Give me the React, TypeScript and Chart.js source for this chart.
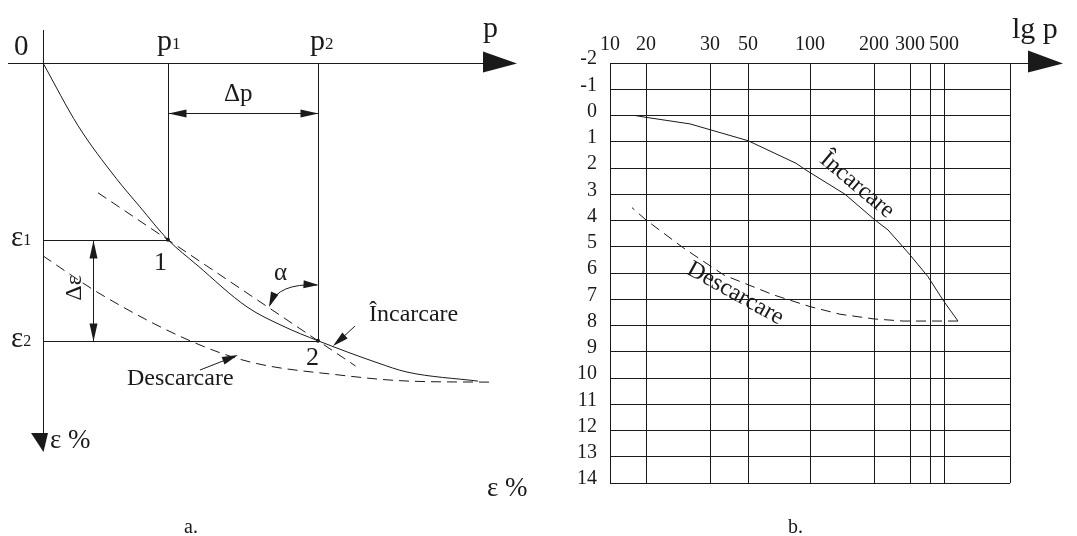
import React, { useEffect, useRef } from "react";
import { Chart, registerables } from "chart.js";

Chart.register(...registerables);

// ---- Panel a: schematic compression curve, p (horizontal) vs ε (downwards) ----
const loadingA = [
  [0, 0], [1.4, 1.24], [2.92, 2.28], [3.88, 2.85], [5, 3.5], [6.16, 4.0],
  [8.16, 4.83], [9.6, 5.21], [11, 5.5], [13.4, 5.94], [14.56, 6.12], [17.4, 6.3],
];
const unloadingA = [
  [0, 3.82], [2.28, 4.57], [5.88, 5.5], [8.28, 5.92], [11.88, 6.18], [14.68, 6.3], [18, 6.32],
];
const secantA = [[2.2, 2.57], [12.5, 6.0]];
const p1 = 5;
const p2 = 11;
const eps1 = 3.5;
const eps2 = 5.5;

// ---- Panel b: ε % against lg p ----
const pTickLabels = ["10", "20", "30", "50", "100", "200", "300", "", "500", ""];
const lgPos = [0, 0.18, 0.5, 0.69, 1.0, 1.32, 1.5, 1.6, 1.67, 2.0];
const epsMin = -2;
const epsMax = 14;
const loadingB = [
  [0.125, 0], [0.18, 0.07], [0.4, 0.32], [0.69, 0.96], [0.93, 1.82], [0.98, 2.08],
  [1.175, 3.0], [1.32, 3.95], [1.39, 4.36], [1.5, 5.31], [1.59, 6.14], [1.67, 7.09], [1.74, 7.83],
];
const unloadingB = [
  [1.74, 7.83], [1.465, 7.83], [1.32, 7.75], [1.15, 7.57], [1.0, 7.28], [0.82, 6.84],
  [0.57, 6.08], [0.37, 5.06], [0.18, 3.98], [0.11, 3.51],
];

const INK = "#1a1a1a";
const SERIF = '"Liberation Serif", "DejaVu Serif", serif';
const toXY = (arr: number[][]) => arr.map(([x, y]) => ({ x, y }));

function seg(ctx: CanvasRenderingContext2D, x1: number, y1: number, x2: number, y2: number) {
  ctx.beginPath();
  ctx.moveTo(x1, y1);
  ctx.lineTo(x2, y2);
  ctx.stroke();
}

function tri(ctx: CanvasRenderingContext2D, pts: number[][]) {
  ctx.beginPath();
  ctx.moveTo(pts[0][0], pts[0][1]);
  for (let i = 1; i < pts.length; i++) ctx.lineTo(pts[i][0], pts[i][1]);
  ctx.closePath();
  ctx.fill();
}

// filled arrowhead with its tip at (tx, ty), pointing away from (fx, fy)
function arrow(ctx: CanvasRenderingContext2D, tx: number, ty: number, fx: number, fy: number, len = 17, half = 4) {
  const ang = Math.atan2(ty - fy, tx - fx);
  const ux = Math.cos(ang), uy = Math.sin(ang);
  const bx = tx - ux * len, by = ty - uy * len;
  tri(ctx, [[tx, ty], [bx - uy * half, by + ux * half], [bx + uy * half, by - ux * half]]);
}

function txt(ctx: CanvasRenderingContext2D, s: string, x: number, y: number, size: number, align: CanvasTextAlign = "left") {
  ctx.font = `${size}px ${SERIF}`;
  ctx.textAlign = align;
  ctx.textBaseline = "alphabetic";
  ctx.fillText(s, x, y);
  return ctx.measureText(s).width;
}

// symbol with a small index set right after it on the same baseline
function indexed(ctx: CanvasRenderingContext2D, s: string, idx: string, x: number, y: number, size: number) {
  const w = txt(ctx, s, x, y, size);
  txt(ctx, idx, x + w, y - 1, Math.round(size * 0.55));
}

const panelAPlugin = {
  id: "panelA",
  afterDatasetsDraw(chart: any) {
    const ctx: CanvasRenderingContext2D = chart.ctx;
    const X = (v: number) => chart.scales.x.getPixelForValue(v);
    const Y = (v: number) => chart.scales.y.getPixelForValue(v);
    const a = (v: number) => Math.round(v) + 0.5;
    ctx.save();
    ctx.strokeStyle = INK;
    ctx.fillStyle = INK;
    ctx.lineWidth = 1;
    const ox = a(X(0)), oy = a(Y(0));

    // p axis and ε axis
    seg(ctx, 8, oy, 490, oy);
    tri(ctx, [[483, oy - 12], [517, oy], [483, oy + 9]]);
    seg(ctx, ox, 30, ox, 440);
    tri(ctx, [[31, 433], [48, 433], [ox, 452]]);

    // reference lines to points 1 and 2
    const x1 = a(X(p1)), x2 = a(X(p2)), y1 = a(Y(eps1)), y2 = a(Y(eps2));
    seg(ctx, x1, oy, x1, y1);
    seg(ctx, x2, oy, x2, y2);
    seg(ctx, ox, y1, x1, y1);
    seg(ctx, ox, y2, x2, y2);

    // Δp dimension
    const dy = a(oy + 49);
    seg(ctx, x1, dy, x2, dy);
    arrow(ctx, x1, dy, x1 + 10, dy, 18, 4);
    arrow(ctx, x2, dy, x2 - 10, dy, 18, 4);

    // Δε dimension
    const dx = a(X(2));
    seg(ctx, dx, y1, dx, y2);
    arrow(ctx, dx, y1, dx, y1 + 10, 18, 4);
    arrow(ctx, dx, y2, dx, y2 - 10, 18, 4);

    // angle α between the secant and the p2 line
    ctx.beginPath();
    ctx.moveTo(270, 305);
    ctx.quadraticCurveTo(278, 283, 317, 285);
    ctx.stroke();
    arrow(ctx, 269, 307, 276, 290, 15, 4);
    arrow(ctx, x2, 285, 300, 284, 15, 4);

    // leaders for the curve names
    seg(ctx, 355, 326, 340, 340);
    arrow(ctx, 333, 346, 350, 331, 16, 4);
    seg(ctx, 200, 370, 228, 359);
    arrow(ctx, 238, 355, 220, 362, 16, 4);

    // points 1 and 2
    ctx.beginPath();
    ctx.arc(X(p1), Y(eps1), 2, 0, Math.PI * 2);
    ctx.arc(X(p2), Y(eps2), 2, 0, Math.PI * 2);
    ctx.fill();

    // labels
    txt(ctx, "0", 14, 55, 29);
    indexed(ctx, "p", "1", 157, 50, 30);
    indexed(ctx, "p", "2", 310, 50, 30);
    txt(ctx, "p", 483, 37, 30);
    txt(ctx, "Δp", 224, 101, 25);
    indexed(ctx, "ε", "1", 11, 246, 29);
    indexed(ctx, "ε", "2", 11, 347, 29);
    txt(ctx, "1", 154, 270, 26);
    txt(ctx, "2", 306, 365, 26);
    txt(ctx, "α", 274, 280, 25);
    txt(ctx, "Încarcare", 369, 321, 24);
    txt(ctx, "Descarcare", 127, 385, 24);
    ctx.save();
    ctx.translate(81, 288);
    ctx.rotate(-Math.PI / 2);
    txt(ctx, "Δε", 0, 0, 24, "center");
    ctx.restore();
    txt(ctx, "ε %", 50, 448, 27);
    txt(ctx, "ε %", 487, 496, 27);
    txt(ctx, "a.", 184, 533, 20);
    ctx.restore();
  },
};

const panelBPlugin = {
  id: "panelB",
  afterDraw(chart: any) {
    const ctx: CanvasRenderingContext2D = chart.ctx;
    const { right, top } = chart.chartArea;
    const ty = Math.round(top) + 0.5;
    ctx.save();
    ctx.strokeStyle = INK;
    ctx.fillStyle = INK;
    ctx.lineWidth = 1;
    seg(ctx, right, ty, 492, ty);
    tri(ctx, [[488, ty - 13], [523, ty], [488, ty + 9]]);
    txt(ctx, "lg p", 472, 38, 30);

    ctx.save();
    ctx.translate(318, 184);
    ctx.rotate((40 * Math.PI) / 180);
    txt(ctx, "Încarcare", 0, 8, 24, "center");
    ctx.restore();

    ctx.save();
    ctx.translate(196, 292);
    ctx.rotate((29 * Math.PI) / 180);
    txt(ctx, "Descarcare", 0, 8, 24, "center");
    ctx.restore();

    txt(ctx, "b.", 248, 533, 20);
    ctx.restore();
  },
};

const baseOpts = {
  responsive: false,
  animation: false as const,
  events: [] as any[],
  plugins: { legend: { display: false }, tooltip: { enabled: false } },
};

export default function App() {
  const refA = useRef<HTMLCanvasElement>(null);
  const refB = useRef<HTMLCanvasElement>(null);

  useEffect(() => {
    const line = (data: number[][], dashed: boolean, mono: boolean) => ({
      data: toXY(data),
      borderColor: INK,
      borderWidth: 1,
      borderDash: dashed ? [10, 6] : [],
      pointRadius: 0,
      fill: false,
      tension: mono ? 0.4 : 0,
      cubicInterpolationMode: mono ? ("monotone" as const) : ("default" as const),
    });

    const chartA = new Chart(refA.current!, {
      type: "line",
      data: {
        datasets: [
          line(loadingA, false, true),
          line(unloadingA, true, true),
          line(secantA, true, false),
        ],
      },
      options: {
        ...baseOpts,
        layout: { padding: { left: 43, top: 63, right: 22, bottom: 536 - 63 - 7.7 * 50.5 } },
        scales: {
          x: { type: "linear", min: 0, max: 19, display: false },
          y: { type: "linear", min: 0, max: 7.7, reverse: true, display: false },
        },
      },
      plugins: [panelAPlugin],
    });

    const tickFont = { family: SERIF, size: 20 };
    const chartB = new Chart(refB.current!, {
      type: "line",
      data: {
        datasets: [line(loadingB, false, false), line(unloadingB, true, false)],
      },
      options: {
        ...baseOpts,
        layout: { padding: { left: 0, top: 0, right: 67, bottom: 53 } },
        scales: {
          x: {
            type: "linear",
            position: "top",
            min: 0,
            max: 2,
            afterBuildTicks: (s: any) => {
              s.ticks = lgPos.map((v) => ({ value: v }));
            },
            afterFit: (s: any) => {
              s.height = 63;
            },
            grid: { color: INK, lineWidth: 1, drawTicks: false },
            border: { color: INK, width: 1 },
            ticks: {
              autoSkip: false,
              maxRotation: 0,
              padding: 6,
              color: INK,
              font: tickFont,
              callback: (_v: any, i: number) => pTickLabels[i],
            },
          },
          y: {
            type: "linear",
            min: epsMin,
            max: epsMax,
            reverse: true,
            afterFit: (s: any) => {
              s.width = 70;
            },
            grid: { color: INK, lineWidth: 1, drawTicks: false },
            border: { color: INK, width: 1 },
            ticks: {
              stepSize: 1,
              autoSkip: false,
              padding: 13,
              labelOffset: -4,
              color: INK,
              font: tickFont,
              callback: (v: any) => String(v),
            },
          },
        },
      },
      plugins: [panelBPlugin],
    });

    return () => {
      chartA.destroy();
      chartB.destroy();
    };
  }, []);

  return (
    <div style={{ position: "fixed", left: 0, top: 0, width: 1077, height: 536, background: "#fff" }}>
      <canvas ref={refA} width={540} height={536} style={{ position: "absolute", left: 0, top: 0, width: 540, height: 536 }} />
      <canvas ref={refB} width={537} height={536} style={{ position: "absolute", left: 540, top: 0, width: 537, height: 536 }} />
    </div>
  );
}
